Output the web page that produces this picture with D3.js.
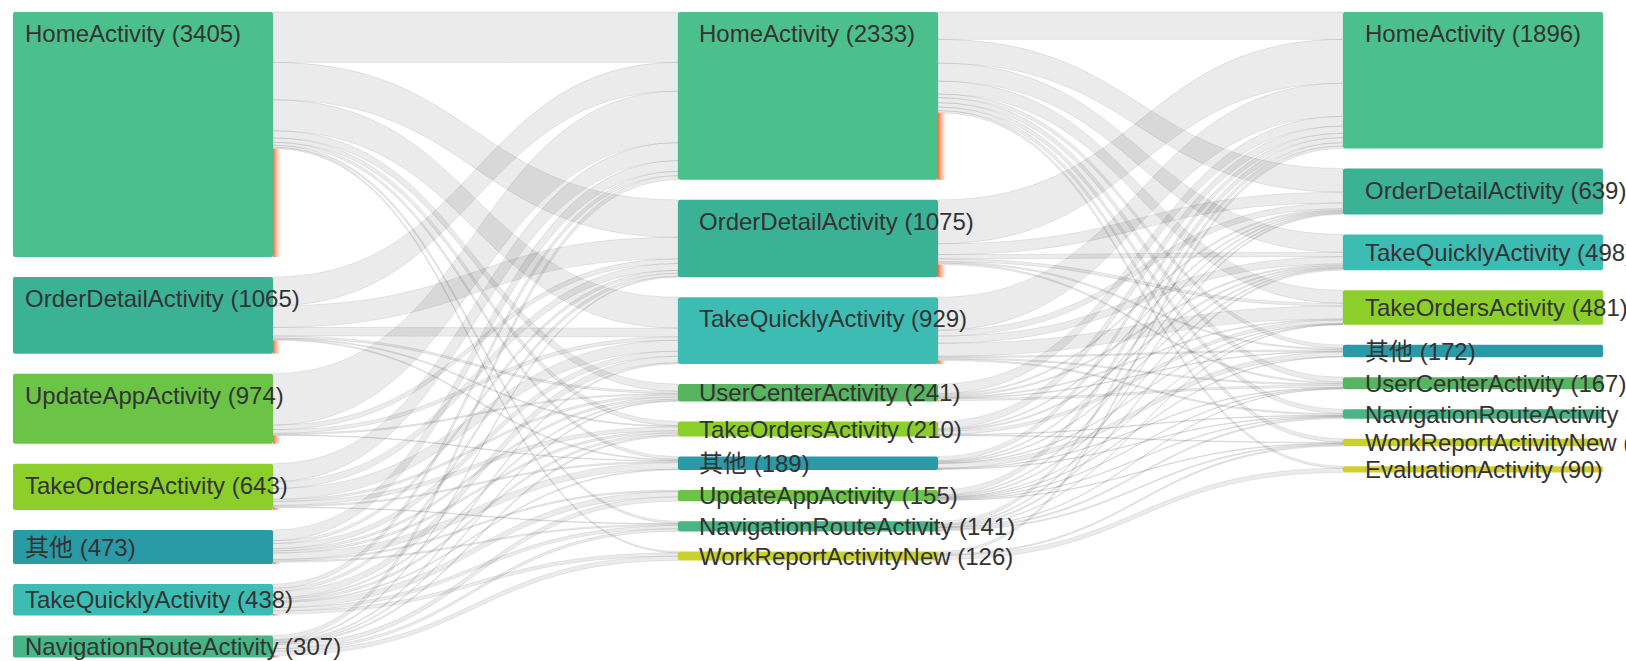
<html>
<head>
    <meta http-equiv='Content-Type' content='text/html; charset=utf-8'>
    <script src="https://cdn.jsdelivr.net/npm/d3@7"></script>

    <style>
    body {
        margin: 0px;
        background: #fff;
    }

    svg text {
        font-family: "Liberation Sans", Arial, "Noto Sans CJK SC", sans-serif;
        font-size: 24px;
        fill: #333;
    }

    svg .link {
        fill: rgba(0, 0, 0, 0.08);
        stroke: rgba(0, 0, 0, 0.08);
        stroke-width: 1;
    }
    </style>
</head>

<body>
<script>

    var w = 1626;
    var h = 661;

    /* Pages visited at each step, with visit counts */
    var step1Pages = ["HomeActivity", "OrderDetailActivity", "UpdateAppActivity", "TakeOrdersActivity", "其他", "TakeQuicklyActivity", "NavigationRouteActivity"];
    var step1Counts = [3405, 1065, 974, 643, 473, 438, 307];

    var step2Pages = ["HomeActivity", "OrderDetailActivity", "TakeQuicklyActivity", "UserCenterActivity", "TakeOrdersActivity", "其他", "UpdateAppActivity", "NavigationRouteActivity", "WorkReportActivityNew"];
    var step2Counts = [2333, 1075, 929, 241, 210, 189, 155, 141, 126];

    var step3Pages = ["HomeActivity", "OrderDetailActivity", "TakeQuicklyActivity", "TakeOrdersActivity", "其他", "UserCenterActivity", "NavigationRouteActivity", "WorkReportActivityNew", "EvaluationActivity"];
    var step3Counts = [1896, 639, 498, 481, 172, 167, 131, 104, 90];

    /* flows: one row per page of the earlier step, one column per page of the next step */
    var flows1to2 = [
        [700, 520, 430, 100, 60, 40, 0, 30, 20],
        [400, 300, 120, 30, 15, 15, 0, 0, 0],
        [715, 65, 50, 20, 0, 10, 0, 0, 0],
        [250, 95, 150, 30, 55, 20, 0, 10, 0],
        [150, 40, 70, 30, 30, 90, 20, 20, 0],
        [60, 40, 90, 20, 30, 14, 75, 45, 46],
        [58, 15, 19, 11, 20, 0, 60, 36, 60]
    ];

    var flows2to3 = [
        [380, 330, 250, 180, 50, 70, 60, 50, 30],
        [610, 150, 60, 40, 20, 20, 0, 0, 0],
        [460, 80, 100, 180, 20, 20, 20, 0, 0],
        [135, 20, 20, 15, 10, 30, 0, 0, 0],
        [100, 15, 20, 45, 0, 0, 10, 10, 0],
        [60, 14, 14, 10, 62, 10, 10, 0, 0],
        [70, 15, 14, 6, 10, 10, 11, 10, 0],
        [46, 15, 20, 5, 0, 7, 20, 16, 0],
        [35, 0, 0, 0, 0, 0, 0, 18, 60]
    ];

    var pageColor = d3.scaleOrdinal()
        .domain(["HomeActivity", "OrderDetailActivity", "UpdateAppActivity", "TakeOrdersActivity", "其他", "TakeQuicklyActivity", "NavigationRouteActivity", "UserCenterActivity", "WorkReportActivityNew", "EvaluationActivity"])
        .range(["#4cc08c", "#3bb196", "#6cc447", "#8ccf2a", "#2a9ba6", "#3dbcb3", "#47b585", "#58b460", "#c9d12b", "#d3ce2f"]);

    var nodeWidth = 260;
    var nodeGap = 20;
    var topPad = 12;
    var labelPad = [12, 21, 22];

    var xStep = d3.scaleLinear().domain([0, 2]).range([13, 1343]);
    var yk = d3.scaleLinear().domain([0, 3405]).range([0, 245]);

    /* Build nodes per step */
    var steps = [[step1Pages, step1Counts], [step2Pages, step2Counts], [step3Pages, step3Counts]];
    var columns = steps.map(function(s, si) {
        var y = topPad;
        return s[0].map(function(name, i) {
            var n = {name: name, value: s[1][i], step: si, index: i,
                     x0: xStep(si), x1: xStep(si) + nodeWidth,
                     y0: y, y1: y + yk(s[1][i]), out: [], inn: []};
            y = n.y1 + nodeGap;
            return n;
        });
    });
    var nodes = d3.merge(columns);

    /* Build links */
    var links = [];
    [flows1to2, flows2to3].forEach(function(m, si) {
        m.forEach(function(row, i) {
            row.forEach(function(v, j) {
                if (v <= 0) return;
                var l = {source: columns[si][i], target: columns[si + 1][j], value: v};
                l.source.out.push(l);
                l.target.inn.push(l);
                links.push(l);
            });
        });
    });

    /* Stack links at each end, in order of the node on the other side */
    nodes.forEach(function(n) {
        var y = n.y0;
        n.out.sort(function(a, b) { return a.target.index - b.target.index; })
            .forEach(function(l) { l.sy0 = y; y += yk(l.value); l.sy1 = y; });
        n.outEnd = y;
        y = n.y0;
        n.inn.sort(function(a, b) { return a.source.index - b.source.index; })
            .forEach(function(l) { l.ty0 = y; y += yk(l.value); l.ty1 = y; });
    });

    function ribbon(d) {
        var p = d3.path();
        var x0 = d.source.x1, x1 = d.target.x0, xm = (x0 + x1) / 2;
        p.moveTo(x0, d.sy0);
        p.bezierCurveTo(xm, d.sy0, xm, d.ty0, x1, d.ty0);
        p.lineTo(x1, d.ty1);
        p.bezierCurveTo(xm, d.ty1, xm, d.sy1, x0, d.sy1);
        p.closePath();
        return p.toString();
    }

    var svg = d3.select("body")
        .append("svg")
        .attr("width", w)
        .attr("height", h);

    var grad = svg.append("defs").append("linearGradient")
        .attr("id", "dropoff")
        .attr("x1", "0%").attr("x2", "100%");
    grad.append("stop").attr("offset", "0%").attr("stop-color", "#f26a35").attr("stop-opacity", 1);
    grad.append("stop").attr("offset", "45%").attr("stop-color", "#f7a07a").attr("stop-opacity", 0.6);
    grad.append("stop").attr("offset", "100%").attr("stop-color", "#ffd8c8").attr("stop-opacity", 0);

    svg.append("g")
        .selectAll("path")
        .data(links)
        .enter()
        .append("path")
        .attr("class", "link")
        .attr("d", ribbon);

    /* Drop-off strip: part of a node that has no next step */
    svg.append("g")
        .selectAll("rect")
        .data(nodes.filter(function(n) { return n.step < 2 && n.y1 - n.outEnd > 0.5; }))
        .enter()
        .append("rect")
        .attr("x", function(d) { return d.x1; })
        .attr("y", function(d) { return d.outEnd; })
        .attr("width", 9)
        .attr("height", function(d) { return d.y1 - d.outEnd; })
        .attr("fill", "url(#dropoff)");

    svg.append("g")
        .selectAll("rect")
        .data(nodes)
        .enter()
        .append("rect")
        .attr("x", function(d) { return d.x0; })
        .attr("y", function(d) { return d.y0; })
        .attr("width", nodeWidth)
        .attr("height", function(d) { return d.y1 - d.y0; })
        .attr("rx", 2)
        .attr("fill", function(d) { return pageColor(d.name); });

    svg.append("g")
        .selectAll("text")
        .data(nodes)
        .enter()
        .append("text")
        .attr("x", function(d) { return d.x0 + labelPad[d.step]; })
        .attr("y", function(d) { return d.y0 + Math.min((d.y1 - d.y0) / 2, 21.5) + 8.6; })
        .text(function(d) { return d.name + " (" + d.value + ")"; });

</script>
</body>
</html>
